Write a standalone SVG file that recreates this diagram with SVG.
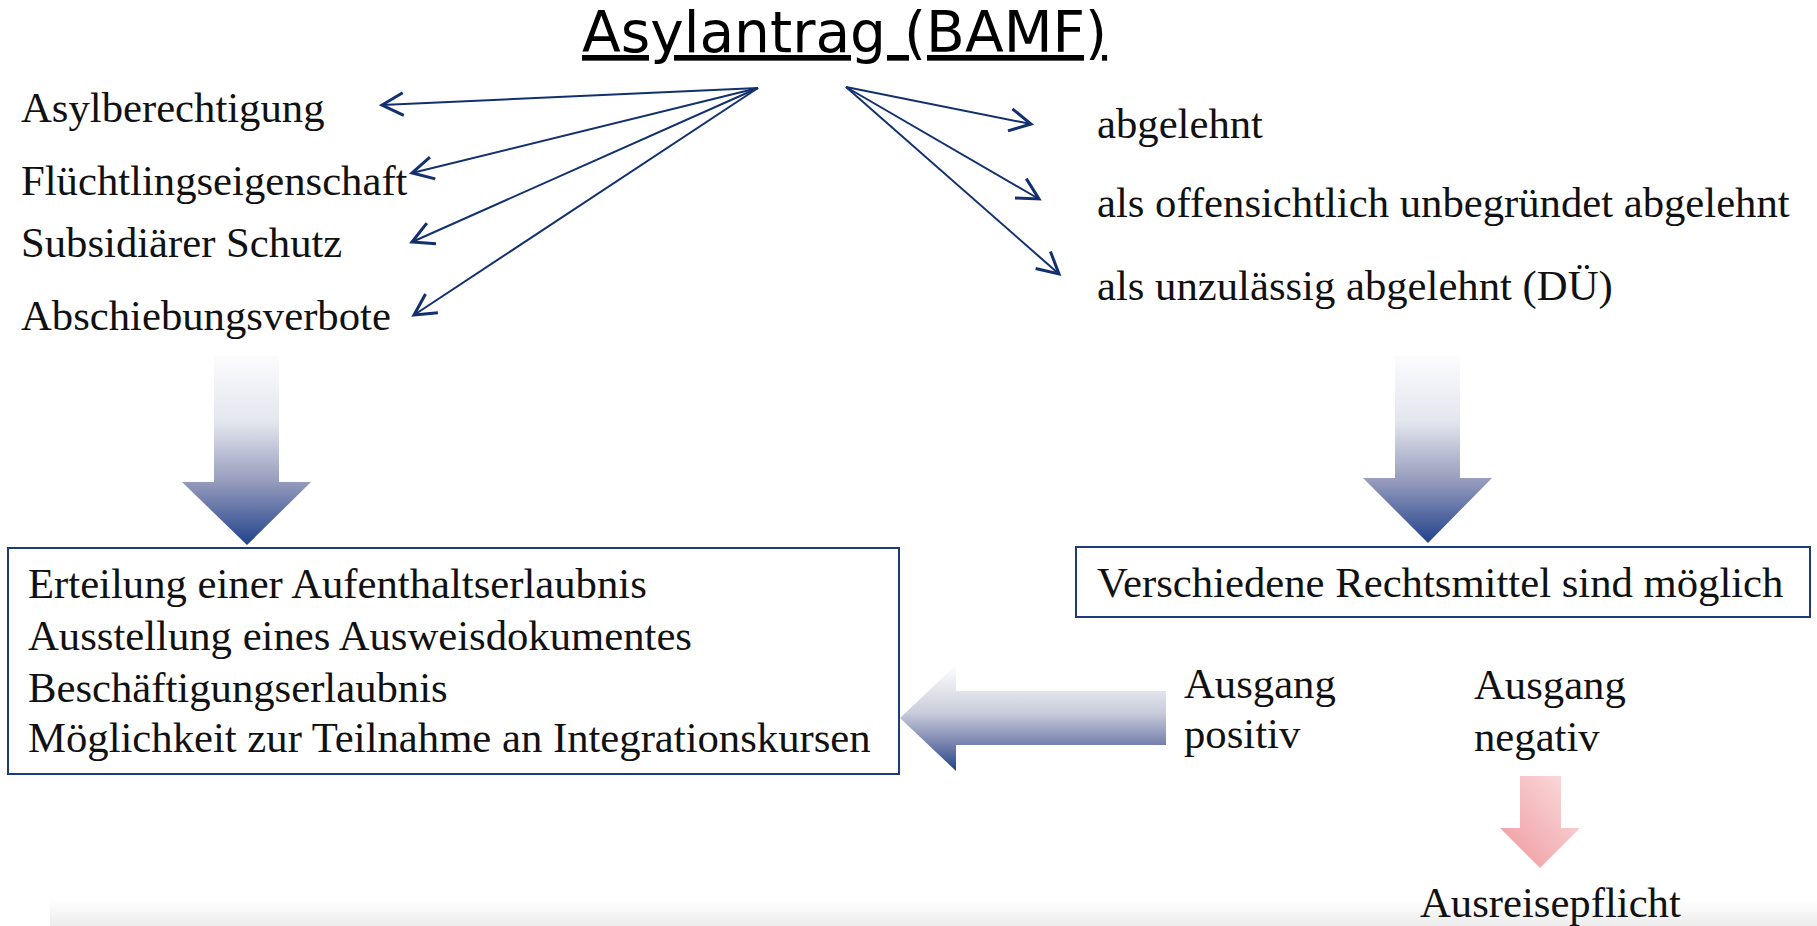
<svg xmlns="http://www.w3.org/2000/svg" width="1817" height="926" viewBox="0 0 1817 926">
<style>
  .t { font-family: "Liberation Serif", "Times New Roman", serif; font-size: 42.7px; fill: #111; }
  .title { font-family: "DejaVu Sans", Verdana, sans-serif; font-size: 56.6px; fill: #000; text-decoration: underline; }
  .con { stroke: #12306e; stroke-width: 2; fill: none; marker-end: url(#open); }
  .box { fill: #fff; stroke: #1f3a7a; stroke-width: 2; }
</style>
<defs>
  <marker id="open" markerUnits="userSpaceOnUse" markerWidth="30" markerHeight="30" viewBox="-20 -12 24 24" refX="0" refY="0" orient="auto">
    <path d="M -17 -9 L 0 0 L -17 9" fill="none" stroke="#12306e" stroke-width="2.4" stroke-linejoin="miter"/>
  </marker>
  <linearGradient id="gDown" x1="0" y1="0" x2="0" y2="1">
    <stop offset="0" stop-color="#fcfcfd"/>
    <stop offset="0.35" stop-color="#e4e6ee"/>
    <stop offset="0.66" stop-color="#979dbd"/>
    <stop offset="1" stop-color="#22428c"/>
  </linearGradient>
  <linearGradient id="gLeft" x1="0" y1="0" x2="0" y2="1">
    <stop offset="0" stop-color="#ffffff"/>
    <stop offset="0.45" stop-color="#c9ccdb"/>
    <stop offset="0.75" stop-color="#7580ab"/>
    <stop offset="1" stop-color="#22428c"/>
  </linearGradient>
  <linearGradient id="gPink" x1="0" y1="1" x2="1" y2="0">
    <stop offset="0" stop-color="#ef979d"/>
    <stop offset="1" stop-color="#fadfe0"/>
  </linearGradient>
  <linearGradient id="gBand" x1="0" y1="0" x2="0" y2="1">
    <stop offset="0" stop-color="#ffffff"/>
    <stop offset="1" stop-color="#ececec"/>
  </linearGradient>
</defs>
<rect width="1817" height="926" fill="#fff"/>
<rect x="50" y="900" width="1767" height="26" fill="url(#gBand)"/>

<g id="title"><text class="title" x="582" y="52">Asylantrag (BAMF)</text></g>

<g id="n-asylberechtigung"><text class="t" x="21" y="122">Asylberechtigung</text></g>
<g id="n-fluechtling"><text class="t" x="21" y="195">Flüchtlingseigenschaft</text></g>
<g id="n-subsidiaer"><text class="t" x="21" y="257">Subsidiärer Schutz</text></g>
<g id="n-abschiebung"><text class="t" x="21" y="330">Abschiebungsverbote</text></g>

<g id="n-abgelehnt"><text class="t" x="1097" y="138">abgelehnt</text></g>
<g id="n-offensichtlich"><text class="t" x="1097" y="217">als offensichtlich unbegründet abgelehnt</text></g>
<g id="n-unzulaessig"><text class="t" x="1097" y="300">als unzulässig abgelehnt (DÜ)</text></g>

<g id="connectors">
  <line class="con" x1="758" y1="88" x2="382" y2="105"/>
  <line class="con" x1="758" y1="88" x2="412" y2="173"/>
  <line class="con" x1="758" y1="88" x2="412" y2="242"/>
  <line class="con" x1="758" y1="88" x2="414" y2="315"/>
  <line class="con" x1="846" y1="87" x2="1031" y2="124"/>
  <line class="con" x1="846" y1="87" x2="1039" y2="199"/>
  <line class="con" x1="846" y1="87" x2="1059" y2="274"/>
  <polygon points="214,356 279,356 279,482 311,482 247,545 182,482 214,482" fill="url(#gDown)"/>
  <polygon points="1395,356 1460,356 1460,478 1492,478 1428,543 1363,478 1395,478" fill="url(#gDown)"/>
  <polygon points="1166,691 956,691 956,665 900,718 956,771 956,745 1166,745" fill="url(#gLeft)"/>
  <polygon points="1520,776 1561,776 1561,828 1580,828 1540,868 1500,828 1520,828" fill="url(#gPink)"/>
</g>

<g id="n-erteilung">
  <rect class="box" x="8" y="548" width="891" height="226"/>
  <text class="t" x="28" y="598">Erteilung einer Aufenthaltserlaubnis</text>
  <text class="t" x="28" y="650">Ausstellung eines Ausweisdokumentes</text>
  <text class="t" x="28" y="702">Beschäftigungserlaubnis</text>
  <text class="t" x="28" y="752">Möglichkeit zur Teilnahme an Integrationskursen</text>
</g>

<g id="n-rechtsmittel">
  <rect class="box" x="1076" y="547" width="734" height="70"/>
  <text class="t" x="1097" y="597">Verschiedene Rechtsmittel sind möglich</text>
</g>

<g id="n-positiv">
  <text class="t" x="1184" y="698">Ausgang</text>
  <text class="t" x="1184" y="748">positiv</text>
</g>
<g id="n-negativ">
  <text class="t" x="1474" y="699">Ausgang</text>
  <text class="t" x="1474" y="751">negativ</text>
</g>
<g id="n-ausreise"><text class="t" x="1420" y="917">Ausreisepflicht</text></g>
</svg>
